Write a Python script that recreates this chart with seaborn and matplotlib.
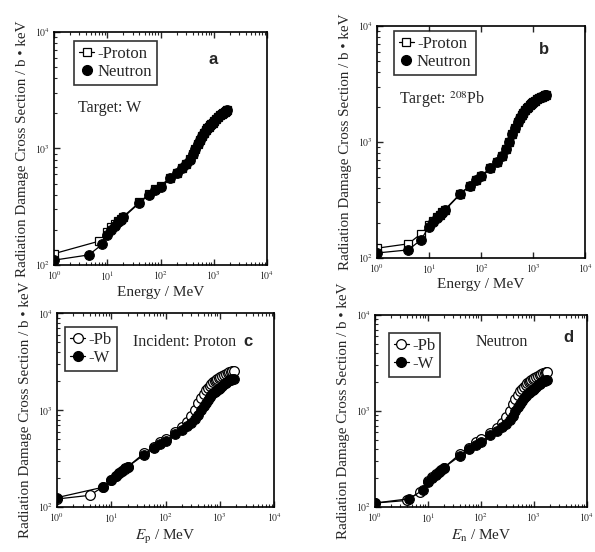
import numpy as np
import pandas as pd
import matplotlib
matplotlib.use("Agg")
import matplotlib.pyplot as plt
from matplotlib.lines import Line2D
from matplotlib.ticker import LogLocator, NullFormatter
import seaborn as sns

# ---------------- data ----------------
E_high = [40, 60, 80, 100, 150, 200, 250, 300, 350, 400, 450, 500, 550, 600, 650,
          700, 750, 800, 850, 900, 950, 1000, 1100, 1200, 1300, 1400, 1500, 1600,
          1700, 1800]

# W target, neutron
E_W_n = [1, 4.5, 8, 10, 12, 14, 16, 18, 20] + E_high
sig_W_n = [110, 122, 150, 180, 200, 218, 232, 245, 256,
           340, 400, 440, 470, 560, 620, 676, 735, 800, 890, 990, 1090, 1190, 1280,
           1360, 1430, 1490, 1540, 1590, 1630, 1670, 1710, 1790, 1860, 1920, 1980,
           2030, 2070, 2100, 2120]

# W target, proton
E_W_p = [1, 7, 10, 12, 14, 16, 18, 20] + E_high
sig_W_p = [125, 160, 192, 210, 225, 238, 250, 260,
           345, 405, 445, 475, 562, 622, 678, 738, 805, 895, 995, 1095, 1190, 1280,
           1360, 1430, 1490, 1540, 1590, 1630, 1670, 1710, 1790, 1860, 1920, 1980,
           2030, 2070, 2100, 2120]

# Pb-208 target, neutron
E_Pb_n = [1, 4, 7, 10, 12, 14, 16, 18, 20] + E_high
sig_Pb_n = [110, 117, 143, 186, 203, 220, 232, 245, 256,
            355, 415, 470, 505, 590, 665, 750, 860, 1000, 1180, 1330, 1480, 1600,
            1700, 1790, 1880, 1950, 2010, 2060, 2110, 2150, 2190, 2260, 2320, 2370,
            2420, 2460, 2490, 2520, 2540]

# Pb-208 target, proton
E_Pb_p = [1, 4, 7, 10, 12, 14, 16, 18, 20] + E_high
sig_Pb_p = [121, 132, 161, 192, 208, 224, 236, 248, 260,
            358, 418, 472, 508, 592, 668, 752, 862, 1000, 1180, 1330, 1480, 1600,
            1700, 1790, 1880, 1950, 2010, 2060, 2110, 2150, 2190, 2260, 2320, 2370,
            2420, 2460, 2490, 2520, 2540]

x_ticks = [1, 10, 100, 1000, 10000]
x_ticklabels = [r"$10^{0}$", r"$10^{1}$", r"$10^{2}$", r"$10^{3}$", r"$10^{4}$"]
y_ticks = [100, 1000, 10000]
y_ticklabels = [r"$10^{2}$", r"$10^{3}$", r"$10^{4}$"]

ylabel = "Radiation Damage Cross Section / b \u2022 keV"

# ---------------- style ----------------
sns.set_style("ticks")
plt.rcParams["font.family"] = ["Liberation Serif", "DejaVu Serif"]
plt.rcParams["mathtext.fontset"] = "stix"
plt.rcParams["axes.linewidth"] = 1.2

fig = plt.figure(figsize=(5.95, 5.52), dpi=100)
ax_a = fig.add_axes([0.0908, 0.520, 0.358, 0.422])
ax_b = fig.add_axes([0.6336, 0.533, 0.350, 0.420])
ax_c = fig.add_axes([0.0958, 0.0815, 0.365, 0.351])
ax_d = fig.add_axes([0.630, 0.0815, 0.356, 0.348])

FILLED = dict(color="black", marker="o", markersize=7, markerfacecolor="black",
              markeredgecolor="black", linewidth=0.9)
OPEN_SQ = dict(color="black", marker="s", markersize=5.5, markerfacecolor="white",
               markeredgecolor="black", markeredgewidth=0.9, linewidth=0.9)
OPEN_C = dict(color="black", marker="o", markersize=7, markerfacecolor="white",
              markeredgecolor="black", markeredgewidth=0.9, linewidth=0.9)


def draw(ax, E, s, style):
    df = pd.DataFrame({"E": E, "s": s})
    sns.lineplot(data=df, x="E", y="s", ax=ax, sort=False, estimator=None,
                 legend=False, **style)


def setup(ax, xlabel):
    ax.set_xscale("log")
    ax.set_yscale("log")
    ax.set_xlim(1, 10000)
    ax.set_ylim(100, 10000)
    ax.set_xticks(x_ticks)
    ax.set_xticklabels(x_ticklabels, fontsize=7)
    ax.set_yticks(y_ticks)
    ax.set_yticklabels(y_ticklabels, fontsize=7)
    ax.xaxis.set_minor_locator(LogLocator(base=10, subs=np.arange(2, 10)))
    ax.yaxis.set_minor_locator(LogLocator(base=10, subs=np.arange(2, 10)))
    ax.xaxis.set_minor_formatter(NullFormatter())
    ax.yaxis.set_minor_formatter(NullFormatter())
    ax.tick_params(which="both", direction="in", top=True, right=False)
    ax.tick_params(which="major", length=4, width=1, pad=3)
    ax.tick_params(which="minor", length=2.5, width=0.8)
    ax.set_xlabel(xlabel, fontsize=11, labelpad=2)
    ax.set_ylabel(ylabel, fontsize=10.8, labelpad=4)
    for sp in ax.spines.values():
        sp.set_linewidth(1.2)
        sp.set_color("black")


def legend(ax, handles, labels, bbox):
    leg = ax.legend(handles, labels, loc="upper left", bbox_to_anchor=bbox,
                    frameon=True, fancybox=False, edgecolor="black", fontsize=12,
                    handlelength=0.9, handletextpad=0.2, borderpad=0.3,
                    labelspacing=0.1, borderaxespad=0)
    leg.get_frame().set_linewidth(1.2)


h_proton = Line2D([], [], **OPEN_SQ)
h_neutron = Line2D([], [], linestyle="none", **{k: v for k, v in FILLED.items() if k != "linewidth"})
h_pb = Line2D([], [], **OPEN_C)
h_w = Line2D([], [], **FILLED)

# panel a
draw(ax_a, E_W_p, sig_W_p, OPEN_SQ)
draw(ax_a, E_W_n, sig_W_n, FILLED)
setup(ax_a, "Energy / MeV")
legend(ax_a, [h_proton, h_neutron], ["-Proton", "Neutron"], (0.094, 0.961))
ax_a.text(0.113, 0.674, "Target: W", transform=ax_a.transAxes, fontsize=11.5,
          va="center", ha="left")
ax_a.text(0.746, 0.88, "a", transform=ax_a.transAxes, fontsize=12, fontweight="bold",
          family="Liberation Sans", va="center", ha="center")

# panel b
draw(ax_b, E_Pb_p, sig_Pb_p, OPEN_SQ)
draw(ax_b, E_Pb_n, sig_Pb_n, FILLED)
setup(ax_b, "Energy / MeV")
legend(ax_b, [h_proton, h_neutron], ["-Proton", "Neutron"], (0.08, 0.978))
ax_b.text(0.108, 0.68, r"Target: $^{208}$Pb", transform=ax_b.transAxes, fontsize=11.5,
          va="center", ha="left")
ax_b.text(0.80, 0.897, "b", transform=ax_b.transAxes, fontsize=12, fontweight="bold",
          family="Liberation Sans", va="center", ha="center")

# panel c
draw(ax_c, E_Pb_p, sig_Pb_p, OPEN_C)
draw(ax_c, E_W_p, sig_W_p, FILLED)
setup(ax_c, r"$E_{\mathrm{p}}$ / MeV")
legend(ax_c, [h_pb, h_w], ["-Pb", "-W"], (0.037, 0.928))
ax_c.text(0.35, 0.85, "Incident: Proton", transform=ax_c.transAxes, fontsize=11.5,
          va="center", ha="left")
ax_c.text(0.88, 0.856, "c", transform=ax_c.transAxes, fontsize=12, fontweight="bold",
          family="Liberation Sans", va="center", ha="center")

# panel d
draw(ax_d, E_Pb_n, sig_Pb_n, OPEN_C)
draw(ax_d, E_W_n, sig_W_n, FILLED)
setup(ax_d, r"$E_{\mathrm{n}}$ / MeV")
legend(ax_d, [h_pb, h_w], ["-Pb", "-W"], (0.066, 0.906))
ax_d.text(0.476, 0.86, "Neutron", transform=ax_d.transAxes, fontsize=11.5,
          va="center", ha="left")
ax_d.text(0.915, 0.88, "d", transform=ax_d.transAxes, fontsize=12, fontweight="bold",
          family="Liberation Sans", va="center", ha="center")

fig.savefig("out.png", dpi=100)
